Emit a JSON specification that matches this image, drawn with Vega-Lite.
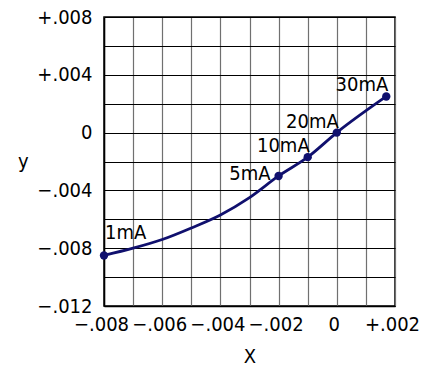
{
  "$schema": "https://vega.github.io/schema/vega-lite/v6.json",
  "width": 291,
  "height": 289,
  "autosize": "none",
  "padding": {"left": 104, "top": 17, "right": 26, "bottom": 63},
  "background": "white",
  "config": {
    "view": {"stroke": "black", "strokeWidth": 1.5},
    "font": "DejaVu Sans Condensed, DejaVu Sans"
  },
  "datasets": {
    "curve": [
      {"x": -0.008, "y": -0.0085},
      {"x": -0.007, "y": -0.0080},
      {"x": -0.006, "y": -0.0074},
      {"x": -0.005, "y": -0.0066},
      {"x": -0.004, "y": -0.0057},
      {"x": -0.003, "y": -0.0045},
      {"x": -0.002, "y": -0.0030},
      {"x": -0.001, "y": -0.0017},
      {"x": 0.0, "y": 0.0},
      {"x": 0.0017, "y": 0.0025}
    ],
    "pts": [
      {"x": -0.008, "y": -0.0085, "label": "1mA"},
      {"x": -0.002, "y": -0.0030, "label": "5mA"},
      {"x": -0.001, "y": -0.0017, "label": "10mA"},
      {"x": 0.0, "y": 0.0, "label": "20mA"},
      {"x": 0.0017, "y": 0.0025, "label": "30mA"}
    ]
  },
  "resolve": {"axis": {"x": "independent", "y": "independent"}},
  "layer": [
    {
      "data": {"name": "curve"},
      "mark": {"type": "line", "color": "#10106e", "strokeWidth": 2.8, "interpolate": "monotone", "clip": false},
      "encoding": {
        "x": {
          "field": "x", "type": "quantitative",
          "scale": {"domain": [-0.008, 0.002], "nice": false, "zero": false},
          "axis": {
            "orient": "bottom",
            "values": [-0.008, -0.007, -0.006, -0.005, -0.004, -0.003, -0.002, -0.001, 0, 0.001, 0.002],
            "grid": true, "gridColor": "#707070", "gridWidth": 1.2, "gridOpacity": 1,
            "domain": false, "ticks": false, "labels": false, "title": null
          }
        },
        "y": {
          "field": "y", "type": "quantitative",
          "scale": {"domain": [-0.012, 0.008], "nice": false, "zero": false},
          "axis": {
            "orient": "left",
            "values": [-0.012, -0.01, -0.008, -0.006, -0.004, -0.002, 0, 0.002, 0.004, 0.006, 0.008],
            "grid": true, "gridColor": "black", "gridWidth": 1.2, "gridOpacity": 1,
            "domain": false, "ticks": false, "labels": false, "title": null
          }
        }
      }
    },
    {
      "data": {"name": "pts"},
      "mark": {"type": "point", "filled": true, "color": "#10106e", "size": 70, "opacity": 1, "clip": false},
      "encoding": {
        "x": {
          "field": "x", "type": "quantitative",
          "axis": {
            "orient": "bottom",
            "values": [-0.008, -0.006, -0.004, -0.002, 0, 0.002],
            "grid": false,
            "domainColor": "black", "domainWidth": 1.5,
            "ticks": false, "labelPadding": 8, "labelOffset": -3,
            "labelFontSize": 20, "labelColor": "black", "labelOverlap": false, "labelFlush": false,
            "labelExpr": "abs(datum.value) < 1e-9 ? '0' : (datum.value > 0 ? '+' : '−') + slice(format(abs(datum.value), '.3f'), 1)",
            "title": "X", "titleFontSize": 20, "titleFontWeight": "normal", "titleColor": "black", "titlePadding": 12
          }
        },
        "y": {
          "field": "y", "type": "quantitative",
          "axis": {
            "orient": "left",
            "values": [-0.012, -0.008, -0.004, 0, 0.004, 0.008],
            "grid": false,
            "domainColor": "black", "domainWidth": 1.5,
            "ticks": false, "labelPadding": 12,
            "labelFontSize": 20, "labelColor": "black", "labelOverlap": false, "labelFlush": false,
            "labelExpr": "abs(datum.value) < 1e-9 ? '0' : (datum.value > 0 ? '+' : '−') + slice(format(abs(datum.value), '.3f'), 1)",
            "title": "y", "titleFontSize": 20, "titleFontWeight": "normal", "titleColor": "black",
            "titleAngle": 0, "titlePadding": 14, "titleBaseline": "middle"
          }
        }
      }
    },
    {
      "data": {"name": "pts"},
      "transform": [{"filter": "datum.label == '1mA'"}],
      "mark": {"type": "text", "fontSize": 20, "color": "black", "align": "left", "baseline": "alphabetic", "dx": 1, "dy": -16},
      "encoding": {
        "x": {"field": "x", "type": "quantitative", "axis": null},
        "y": {"field": "y", "type": "quantitative", "axis": null},
        "text": {"field": "label"}
      }
    },
    {
      "data": {"name": "pts"},
      "transform": [{"filter": "datum.label == '5mA'"}],
      "mark": {"type": "text", "fontSize": 20, "color": "black", "align": "right", "baseline": "alphabetic", "dx": -8, "dy": 4},
      "encoding": {
        "x": {"field": "x", "type": "quantitative", "axis": null},
        "y": {"field": "y", "type": "quantitative", "axis": null},
        "text": {"field": "label"}
      }
    },
    {
      "data": {"name": "pts"},
      "transform": [{"filter": "datum.label == '10mA' || datum.label == '20mA' || datum.label == '30mA'"}],
      "mark": {"type": "text", "fontSize": 20, "color": "black", "align": "right", "baseline": "alphabetic", "dx": 2, "dy": -5},
      "encoding": {
        "x": {"field": "x", "type": "quantitative", "axis": null},
        "y": {"field": "y", "type": "quantitative", "axis": null},
        "text": {"field": "label"}
      }
    }
  ]
}
